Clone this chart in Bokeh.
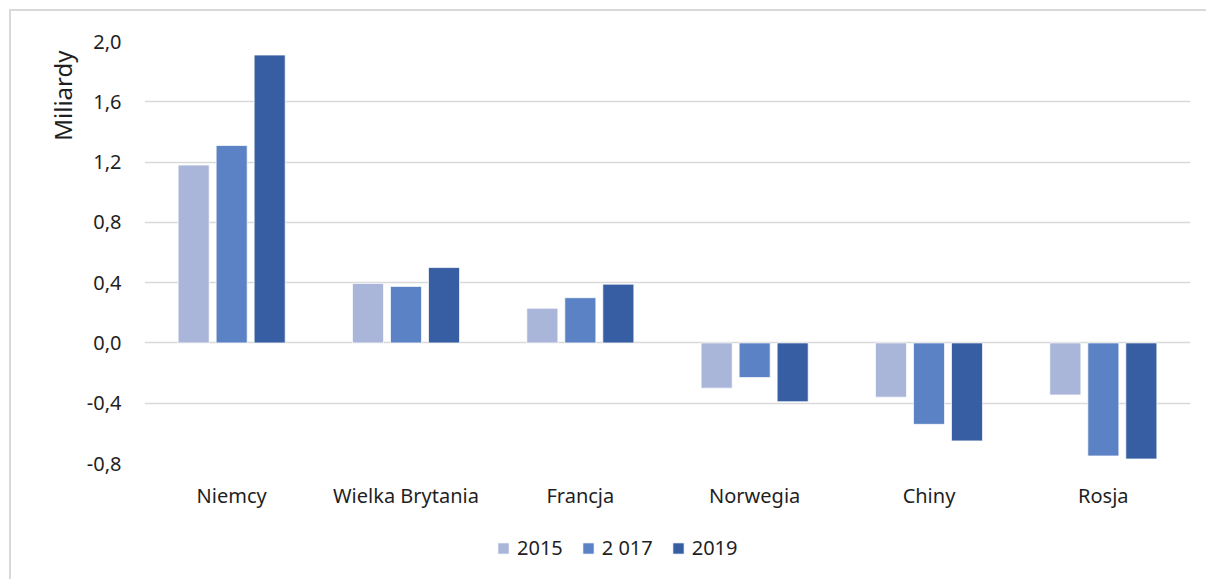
from bokeh.plotting import figure
from bokeh.layouts import column
from bokeh.models import (ColumnDataSource, FactorRange, Range1d, Legend, LegendItem,
                          Title, FixedTicker, CustomJSTickFormatter)
from bokeh.transform import dodge
from bokeh.embed import file_html
from bokeh.resources import INLINE

countries = ["Niemcy", "Wielka Brytania", "Francja", "Norwegia", "Chiny", "Rosja"]
series_labels = ["2015", "2 017", "2019"]
v2015 = [1.18, 0.395, 0.23, -0.30, -0.36, -0.345]
v2017 = [1.31, 0.375, 0.30, -0.23, -0.54, -0.75]
v2019 = [1.91, 0.50, 0.39, -0.39, -0.65, -0.77]
colors = ["#A9B6D9", "#5B82C4", "#375EA2"]
y_ticks = [-0.8, -0.4, 0.0, 0.4, 0.8, 1.2, 1.6, 2.0]
y_title = "Miliardy"

FONT = "Noto Sans"
TXT = "#1f1f1f"
BORDER = "2px solid #D9D9D9"
KEYS = ["s0", "s1", "s2"]
OFFSETS = [-0.218, 0.0, 0.218]

source = ColumnDataSource(dict(country=countries, s0=v2015, s1=v2017, s2=v2019))

p = figure(x_range=FactorRange(factors=countries, range_padding=0),
           y_range=Range1d(-0.8, 2.0),
           width=1197, height=500,
           output_backend="svg", toolbar_location=None,
           min_border_left=133, min_border_right=18,
           min_border_top=30, min_border_bottom=46)
p.margin = (9, 0, 0, 9)
p.styles = {"border-left": BORDER, "border-top": BORDER}

for i, key in enumerate(KEYS):
    p.vbar(x=dodge("country", OFFSETS[i], range=p.x_range), top=key, bottom=0,
           width=0.178, source=source, fill_color=colors[i],
           line_color="white", line_alpha=0.7, line_width=1)

p.outline_line_color = None
p.background_fill_color = "white"
p.border_fill_color = "white"

p.xgrid.grid_line_color = None
p.ygrid.grid_line_color = "#D9D9D9"
p.ygrid.grid_line_width = 1.5
p.yaxis.ticker = FixedTicker(ticks=y_ticks)
p.yaxis.formatter = CustomJSTickFormatter(code="return tick.toFixed(1).replace('.', ',');")

for ax in (p.xaxis, p.yaxis):
    ax.axis_line_color = None
    ax.major_tick_line_color = None
    ax.minor_tick_line_color = None
    ax.major_tick_out = 0
    ax.major_label_text_font = FONT
    ax.major_label_text_font_size = "20px"
    ax.major_label_text_color = TXT

p.yaxis.major_label_standoff = 23
p.xaxis.major_label_standoff = 18

ttl = Title(text=y_title, align="right", offset=9, standoff=10,
            text_font=FONT, text_font_size="24px", text_color=TXT,
            text_font_style="normal")
p.add_layout(ttl, "left")

# legend strip below the chart (its bars lie outside its own visible y-range,
# they only serve as legend swatches)
pl = figure(x_range=FactorRange(factors=countries, range_padding=0),
            y_range=Range1d(10, 11),
            width=1197, height=70, output_backend="svg", toolbar_location=None,
            x_axis_location=None, y_axis_location=None,
            min_border_left=0, min_border_right=0, min_border_top=0, min_border_bottom=0)
pl.margin = (0, 0, 0, 9)
pl.styles = {"border-left": BORDER}
pl.outline_line_color = None
pl.xgrid.grid_line_color = None
pl.ygrid.grid_line_color = None

items = []
for i, key in enumerate(KEYS):
    r = pl.vbar(x=dodge("country", OFFSETS[i], range=pl.x_range), top=key, bottom=0,
                width=0.178, source=source, fill_color=colors[i],
                line_color="white", line_alpha=0.7, line_width=1)
    items.append(LegendItem(label=series_labels[i], renderers=[r]))

legend = Legend(items=items, orientation="horizontal", location=(352, 18),
                glyph_width=14, glyph_height=14, label_standoff=7, spacing=18,
                label_text_font=FONT, label_text_font_size="20px", label_text_color=TXT,
                label_height=20, padding=0, margin=0,
                border_line_color=None, background_fill_alpha=0)
pl.add_layout(legend)

layout = column(p, pl, spacing=0)

open("out.html", "w").write(file_html(layout, INLINE))
